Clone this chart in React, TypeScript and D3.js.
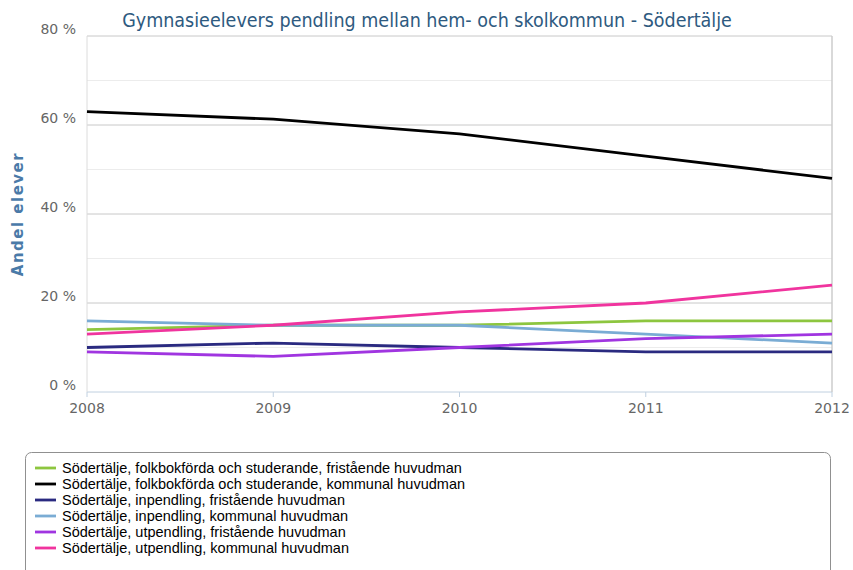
import React from "react";
import * as d3 from "d3";

const years = [2008, 2009, 2010, 2011, 2012];
const yTicks = [0, 20, 40, 60, 80];
const minorTicks = [10, 30, 50, 70];
const seriesNames = [
  "Södertälje, folkbokförda och studerande, fristående huvudman",
  "Södertälje, folkbokförda och studerande, kommunal huvudman",
  "Södertälje, inpendling, fristående huvudman",
  "Södertälje, inpendling, kommunal huvudman",
  "Södertälje, utpendling, fristående huvudman",
  "Södertälje, utpendling, kommunal huvudman",
];
const seriesColors = ["#8dc63f", "#000000", "#2a2a80", "#7aacd4", "#a035e0", "#f0349e"];
const folkFri = [14, 15, 15, 16, 16];
const folkKom = [63, 61.3, 58, 53, 48];
const inFri = [10, 11, 10, 9, 9];
const inKom = [16, 15, 15, 13, 11];
const utFri = [9, 8, 10, 12, 13];
const utKom = [13, 15, 18, 20, 24];
const seriesValues = [folkFri, folkKom, inFri, inKom, utFri, utKom];

export default function App() {
  const W = 853, H = 570;
  const left = 87, right = 832, top = 36, bottom = 392;
  const x = d3.scaleLinear().domain([2008, 2012]).range([left, right]);
  const y = d3.scaleLinear().domain([0, 80]).range([bottom, top]);
  const line = d3.line<number>().x((_, i) => x(years[i])).y((v) => y(v));
  const tickFont = "'DejaVu Sans', sans-serif";
  return (
    <svg width={W} height={H} style={{ position: "absolute", left: 0, top: 0, background: "#fff" }}>
      <text x={427} y={27} textAnchor="middle" fontFamily="'DejaVu Sans Condensed', 'DejaVu Sans', sans-serif" fontSize={19.5} fill="#2e5a80">
        Gymnasieelevers pendling mellan hem- och skolkommun - Södertälje
      </text>
      {minorTicks.map((t) => (
        <line key={"m" + t} x1={left} x2={right} y1={y(t)} y2={y(t)} stroke="#ececec" strokeWidth={1} />
      ))}
      {yTicks.map((t) => (
        <line key={"g" + t} x1={left} x2={right} y1={y(t)} y2={y(t)} stroke={t === 0 ? "#c0d0e0" : "#c8c8c8"} strokeWidth={1} />
      ))}
      <line x1={left} x2={left} y1={top} y2={bottom} stroke="#dcdcdc" />
      <line x1={right} x2={right} y1={top} y2={bottom} stroke="#cccccc" strokeWidth={1.5} />
      {yTicks.map((t) => (
        <text key={"yl" + t} x={76} y={y(t) - 2} textAnchor="end" fontFamily={tickFont} fontSize={14} fill="#666">
          {t} %
        </text>
      ))}
      {years.map((yr) => (
        <g key={yr}>
          <line x1={x(yr)} x2={x(yr)} y1={bottom} y2={bottom + 5} stroke="#c0d0e0" />
          <text x={x(yr)} y={bottom + 21} textAnchor="middle" fontFamily={tickFont} fontSize={14} fill="#666">
            {yr}
          </text>
        </g>
      ))}
      <text
        transform={`translate(23, ${(top + bottom) / 2}) rotate(-90)`}
        textAnchor="middle"
        fontFamily={tickFont}
        fontSize={15}
        fontWeight="bold"
        letterSpacing={1.5}
        fill="#4a7aa8"
      >
        Andel elever
      </text>
      {seriesValues.map((vals, i) => (
        <path key={i} d={line(vals) || ""} fill="none" stroke={seriesColors[i]} strokeWidth={2.8} strokeLinejoin="round" />
      ))}
      <rect x={25.5} y={452.5} width={805} height={140} rx={6} fill="#fff" stroke="#909090" />
      {seriesNames.map((n, i) => (
        <g key={n}>
          <line x1={35} x2={56} y1={468 + i * 16} y2={468 + i * 16} stroke={seriesColors[i]} strokeWidth={2.8} />
          <text x={62} y={473 + i * 16} fontFamily="'Liberation Sans', Arial, sans-serif" fontSize={14.5} fill="#000">
            {n}
          </text>
        </g>
      ))}
    </svg>
  );
}
